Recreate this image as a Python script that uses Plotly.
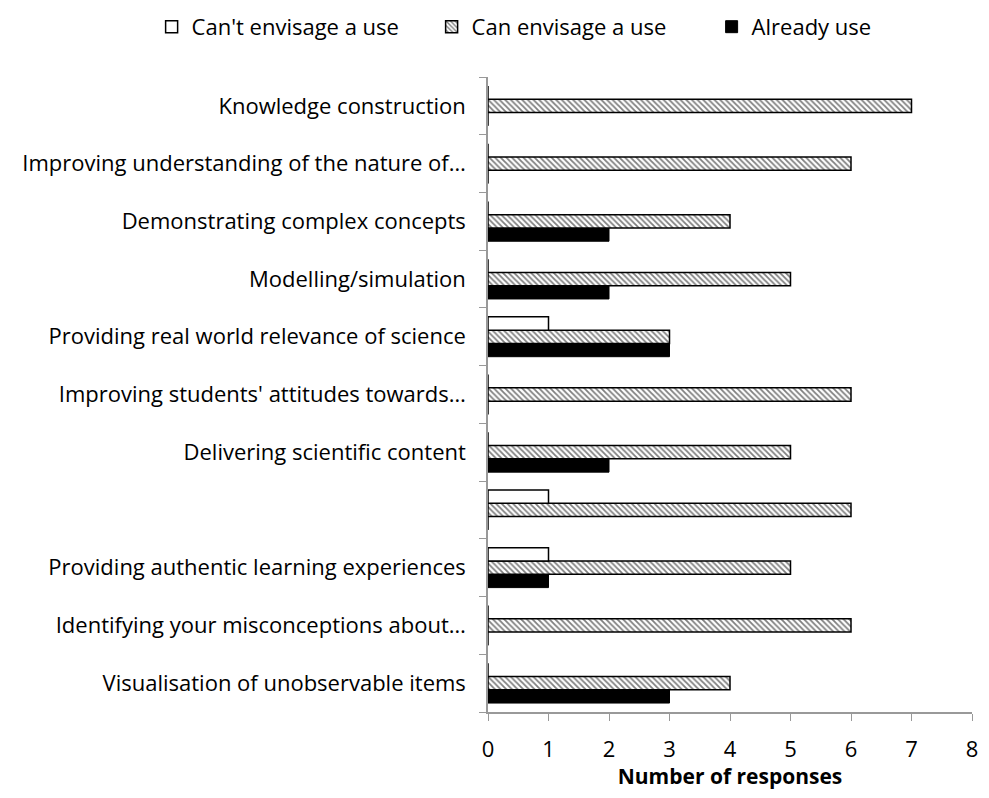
import plotly.graph_objects as go

# categories bottom-to-top
categories = [
    "Visualisation of unobservable items",
    "Identifying your misconceptions about…",
    "Providing authentic learning experiences",
    " ",
    "Delivering scientific content",
    "Improving students' attitudes towards…",
    "Providing real world relevance of science",
    "Modelling/simulation",
    "Demonstrating complex concepts",
    "Improving understanding of the nature of…",
    "Knowledge construction",
]
cant_envisage = [0, 0, 1, 1, 0, 0, 1, 0, 0, 0, 0]
can_envisage = [4, 6, 5, 6, 5, 6, 3, 5, 4, 6, 7]
already_use = [3, 0, 1, 0, 2, 0, 3, 2, 2, 0, 0]
x_ticks = [0, 1, 2, 3, 4, 5, 6, 7, 8]

FONT = "Open Sans"
FS = 22

fig = go.Figure()
fig.add_trace(go.Bar(
    y=categories, x=already_use, orientation="h", name="Already use",
    marker=dict(color="black", line=dict(color="black", width=1)),
    legendrank=3,
))
fig.add_trace(go.Bar(
    y=categories, x=can_envisage, orientation="h", name="Can envisage a use",
    marker=dict(color="white", line=dict(color="black", width=1.5),
                pattern=dict(shape="\\", fgcolor="black", bgcolor="white",
                             size=4, solidity=0.45)),
    legendrank=2,
))
fig.add_trace(go.Bar(
    y=categories, x=cant_envisage, orientation="h", name="Can't envisage a use",
    marker=dict(color="white", line=dict(color="black", width=1.5)),
    legendrank=1,
))

# page body has an 8px margin, so the figure is sized/placed to compensate
fig.update_layout(
    width=973, height=782,
    barmode="group", bargap=0.31, bargroupgap=0,
    plot_bgcolor="white", paper_bgcolor="white",
    margin=dict(l=480, r=9, t=69, b=78, autoexpand=False),
    font=dict(family=FONT, size=FS, color="black"),
    legend=dict(orientation="h", x=-0.695, xanchor="left", y=1.112, yanchor="top",
                xref="paper", yref="paper",
                font=dict(size=FS), traceorder="normal",
                itemwidth=30, tracegroupgap=0,
                entrywidth=235, entrywidthmode="pixels"),
    showlegend=True,
)
fig.update_xaxes(
    range=[0, 8], tickvals=x_ticks, showgrid=False, zeroline=False,
    showline=True, linecolor="#999999", linewidth=1.5,
    ticks="outside", ticklen=7, tickcolor="#999999",
    title=dict(text="<b>Number of responses</b>", font=dict(size=FS - 1), standoff=17),
    tickfont=dict(size=FS), ticklabelstandoff=10, automargin=False,
    ticklabeloverflow="allow",
)
fig.update_yaxes(
    showgrid=False, zeroline=False, showline=True, linecolor="#999999", linewidth=1.5,
    ticks="outside", tickson="boundaries", ticklen=7, tickcolor="#999999",
    tickfont=dict(size=FS), ticklabelstandoff=16, automargin=False,
)

fig.write_html("out.html")
